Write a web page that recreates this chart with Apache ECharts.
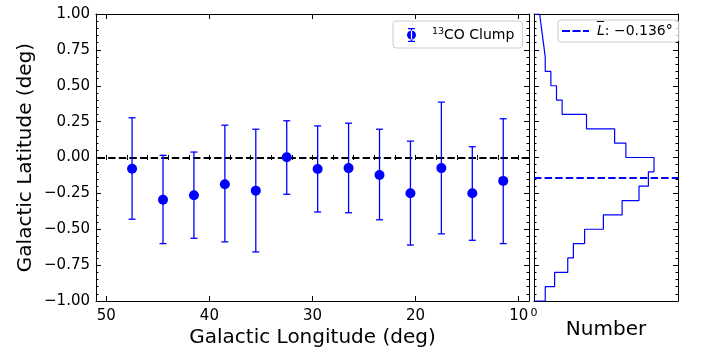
<!DOCTYPE html>
<html>
<head>
<meta charset="utf-8">
<script src="https://cdn.jsdelivr.net/npm/echarts@6/dist/echarts.min.js"></script>
<style>html,body{margin:0;padding:0;background:#fff;}#c{width:703px;height:353px;}</style>
</head>
<body>
<div id="c"></div>
<script>
// ---- data ----
const lon = [47.5, 44.5, 41.5, 38.5, 35.5, 32.5, 29.5, 26.5, 23.5, 20.5, 17.5, 14.5, 11.5];
const lat = [-0.079, -0.295, -0.263, -0.186, -0.231, 0.002, -0.080, -0.074, -0.122, -0.249, -0.074, -0.249, -0.163];
const latLow = [-0.430, -0.600, -0.563, -0.588, -0.658, -0.256, -0.380, -0.385, -0.434, -0.610, -0.532, -0.577, -0.600];
const latHigh = [0.277, 0.015, 0.038, 0.225, 0.197, 0.256, 0.220, 0.239, 0.197, 0.114, 0.386, 0.075, 0.270];
const binEdges = [-1.0, -0.9, -0.8, -0.7, -0.6, -0.5, -0.4, -0.3, -0.2, -0.1, 0.0, 0.1, 0.2, 0.3, 0.4, 0.5, 0.6, 0.7, 0.8, 0.9, 1.0];
const histCounts = [6, 11, 18, 21, 27, 37, 47, 56, 61, 64, 49, 43, 28, 15, 12, 9, 6, 5, 4, 3];
const meanLat = -0.136;
const lonMajorTicks = [10, 20, 30, 40, 50];
const lonMinorTicks = [10, 12, 14, 16, 18, 20, 22, 24, 26, 28, 30, 32, 34, 36, 38, 40, 42, 44, 46, 48, 50];
const numberTicks = [0];

// ---- derived ----
const errData = lon.map((x, i) => [x, latLow[i], latHigh[i]]);
const ptData = lon.map((x, i) => [x, lat[i]]);
const stepData = [[0, binEdges[0]]];
histCounts.forEach((c, i) => { stepData.push([c, binEdges[i]]); stepData.push([c, binEdges[i + 1]]); });
stepData.push([0, binEdges[binEdges.length - 1]]);
const histMax = Math.max(...histCounts) * 1.2;

const BLUE = '#0000ff';
const FONT = 'DejaVu Sans';
const fmtLat = v => (v < 0 ? '\u2212' : '') + Math.abs(v).toFixed(2);

function xTickAxis(grid, pos, vals, len, min, max, inv) {
  return {
    type: 'value', gridIndex: grid, position: pos, min: min, max: max, inverse: inv,
    axisLine: { show: false }, splitLine: { show: false },
    axisLabel: { show: false },
    axisTick: { show: true, inside: true, length: len, customValues: vals, lineStyle: { color: '#000', width: 1 } }
  };
}
function yAxisCfg(grid, pos, labels) {
  return {
    type: 'value', gridIndex: grid, position: pos, min: -1, max: 1, interval: 0.25,
    axisLine: { show: true, onZero: false, lineStyle: { color: '#000', width: 1 } },
    splitLine: { show: false },
    axisTick: { show: true, inside: true, length: 5, lineStyle: { color: '#000', width: 1 } },
    minorTick: { show: true, splitNumber: 5, length: 2.5, lineStyle: { color: '#000', width: 1 } },
    axisLabel: { show: labels, formatter: fmtLat, fontFamily: FONT, fontSize: 15, color: '#000', margin: 6 }
  };
}

const option = {
  animation: false,
  backgroundColor: '#fff',
  grid: [
    { left: 96, top: 14, width: 433, height: 287, containLabel: false },
    { left: 534, top: 14, width: 144, height: 287, containLabel: false }
  ],
  xAxis: [
    {
      type: 'value', gridIndex: 0, position: 'bottom', min: 9, max: 51, inverse: true,
      axisLine: { show: true, onZero: false, lineStyle: { color: '#000', width: 1 } },
      splitLine: { show: false },
      axisTick: { show: true, inside: true, length: 5, customValues: lonMajorTicks, lineStyle: { color: '#000', width: 1 } },
      axisLabel: { show: true, customValues: lonMajorTicks, fontFamily: FONT, fontSize: 15, color: '#000', margin: 8 },
      name: 'Galactic Longitude (deg)', nameLocation: 'middle', nameGap: 27, nameMoveOverlap: false,
      nameTextStyle: { fontFamily: FONT, fontSize: 20, color: '#000' }
    },
    xTickAxis(0, 'bottom', lonMinorTicks, 2.5, 9, 51, true),
    {
      type: 'value', gridIndex: 0, position: 'top', min: 9, max: 51, inverse: true,
      axisLine: { show: true, onZero: false, lineStyle: { color: '#000', width: 1 } },
      splitLine: { show: false }, axisLabel: { show: false },
      axisTick: { show: true, inside: true, length: 5, customValues: lonMajorTicks, lineStyle: { color: '#000', width: 1 } }
    },
    xTickAxis(0, 'top', lonMinorTicks, 2.5, 9, 51, true),
    {
      type: 'value', gridIndex: 1, position: 'bottom', min: 0, max: histMax,
      axisLine: { show: true, onZero: false, lineStyle: { color: '#000', width: 1 } },
      splitLine: { show: false },
      axisTick: { show: false },
      axisLabel: { show: true, customValues: numberTicks, fontFamily: FONT, fontSize: 11, color: '#000', margin: 7 },
      name: 'Number', nameLocation: 'middle', nameGap: 19, nameMoveOverlap: false,
      nameTextStyle: { fontFamily: FONT, fontSize: 20, color: '#000' }
    },
    {
      type: 'value', gridIndex: 1, position: 'top', min: 0, max: histMax,
      axisLine: { show: true, onZero: false, lineStyle: { color: '#000', width: 1 } },
      splitLine: { show: false }, axisLabel: { show: false }, axisTick: { show: false }
    }
  ],
  yAxis: [
    Object.assign(yAxisCfg(0, 'left', true), {
      name: 'Galactic Latitude (deg)', nameLocation: 'middle', nameGap: 60, nameMoveOverlap: false,
      nameTextStyle: { fontFamily: FONT, fontSize: 20, color: '#000' }
    }),
    yAxisCfg(0, 'right', false),
    yAxisCfg(1, 'left', false),
    yAxisCfg(1, 'right', false)
  ],
  legend: [
    {
      left: 393, top: 21, orient: 'vertical',
      padding: [6, 8, 6, 14],
      borderColor: '#cccccc', borderWidth: 1, borderRadius: 3, backgroundColor: 'rgba(255,255,255,0.8)',
      itemWidth: 9, itemHeight: 14,
      data: [{
        name: '13CO Clump',
        icon: 'path://M1,0 H8 V1.2 H1 Z M3.9,0 H5.1 V14 H3.9 Z M1,12.8 H8 V14 H1 Z M0,7 A4.5,4.5 0 1,0 9,7 A4.5,4.5 0 1,0 0,7 Z',
        itemStyle: { color: BLUE, borderWidth: 0 }
      }],
      formatter: () => '{g|}{s|13}{n|CO Clump}',
      textStyle: {
        fontFamily: FONT, fontSize: 14, color: '#000',
        rich: {
          g: { width: 11 },
          s: { fontFamily: FONT, fontSize: 9.5, color: '#000', verticalAlign: 'top', lineHeight: 16 },
          n: { fontFamily: FONT, fontSize: 14, color: '#000', lineHeight: 16 }
        }
      }
    },
    {
      left: 558, top: 20, orient: 'vertical',
      padding: [4, 6, 4, 4],
      borderColor: '#cccccc', borderWidth: 1, borderRadius: 3, backgroundColor: 'rgba(255,255,255,0.8)',
      itemWidth: 27, itemHeight: 2.2,
      data: [{
        name: 'mean',
        icon: 'path://M0,0 H8 V2.2 H0 Z M10.5,0 H18.5 V2.2 H10.5 Z M21,0 H27 V2.2 H21 Z',
        itemStyle: { color: BLUE, borderWidth: 0 },
        lineStyle: { width: 0, opacity: 0 }
      }],
      formatter: () => '{g|}{L|L\u0305}{n|: \u22120.136\u00b0}',
      textStyle: {
        fontFamily: FONT, fontSize: 14, color: '#000',
        rich: {
          g: { width: 3 },
          L: { fontFamily: FONT, fontSize: 14, fontStyle: 'italic', color: '#000', lineHeight: 16 },
          n: { fontFamily: FONT, fontSize: 14, color: '#000', lineHeight: 16 }
        }
      }
    }
  ],
  series: [
    {
      type: 'custom', name: 'err', xAxisIndex: 0, yAxisIndex: 0, z: 2,
      data: errData,
      renderItem: function (params, api) {
        const x = api.value(0);
        const lo = api.coord([x, api.value(1)]);
        const hi = api.coord([x, api.value(2)]);
        const hw = 3.5;
        const st = { stroke: BLUE, lineWidth: 1.3 };
        return {
          type: 'group',
          children: [
            { type: 'line', shape: { x1: lo[0], y1: lo[1], x2: hi[0], y2: hi[1] }, style: st },
            { type: 'line', shape: { x1: lo[0] - hw, y1: lo[1], x2: lo[0] + hw, y2: lo[1] }, style: st },
            { type: 'line', shape: { x1: hi[0] - hw, y1: hi[1], x2: hi[0] + hw, y2: hi[1] }, style: st }
          ]
        };
      },
      markLine: {
        silent: true, symbol: 'none', label: { show: false }, z: 1,
        lineStyle: { color: '#000', type: [7.4, 3.2], width: 2 },
        data: [{ yAxis: 0 }]
      }
    },
    {
      type: 'scatter', name: '13CO Clump', xAxisIndex: 0, yAxisIndex: 0, z: 3,
      symbol: 'circle', symbolSize: 10,
      itemStyle: { color: BLUE, opacity: 1 },
      data: ptData
    },
    {
      type: 'line', name: 'mean', xAxisIndex: 4, yAxisIndex: 2, z: 4,
      data: stepData, showSymbol: false, symbol: 'none',
      color: BLUE,
      lineStyle: { color: BLUE, width: 1.2 },
      markLine: {
        silent: true, symbol: 'none', label: { show: false },
        lineStyle: { color: BLUE, type: [7.4, 3.2], width: 2 },
        data: [{ yAxis: meanLat }]
      }
    }
  ]
};
echarts.init(document.getElementById('c'), null, { renderer: 'canvas' }).setOption(option);
</script>
</body>
</html>
